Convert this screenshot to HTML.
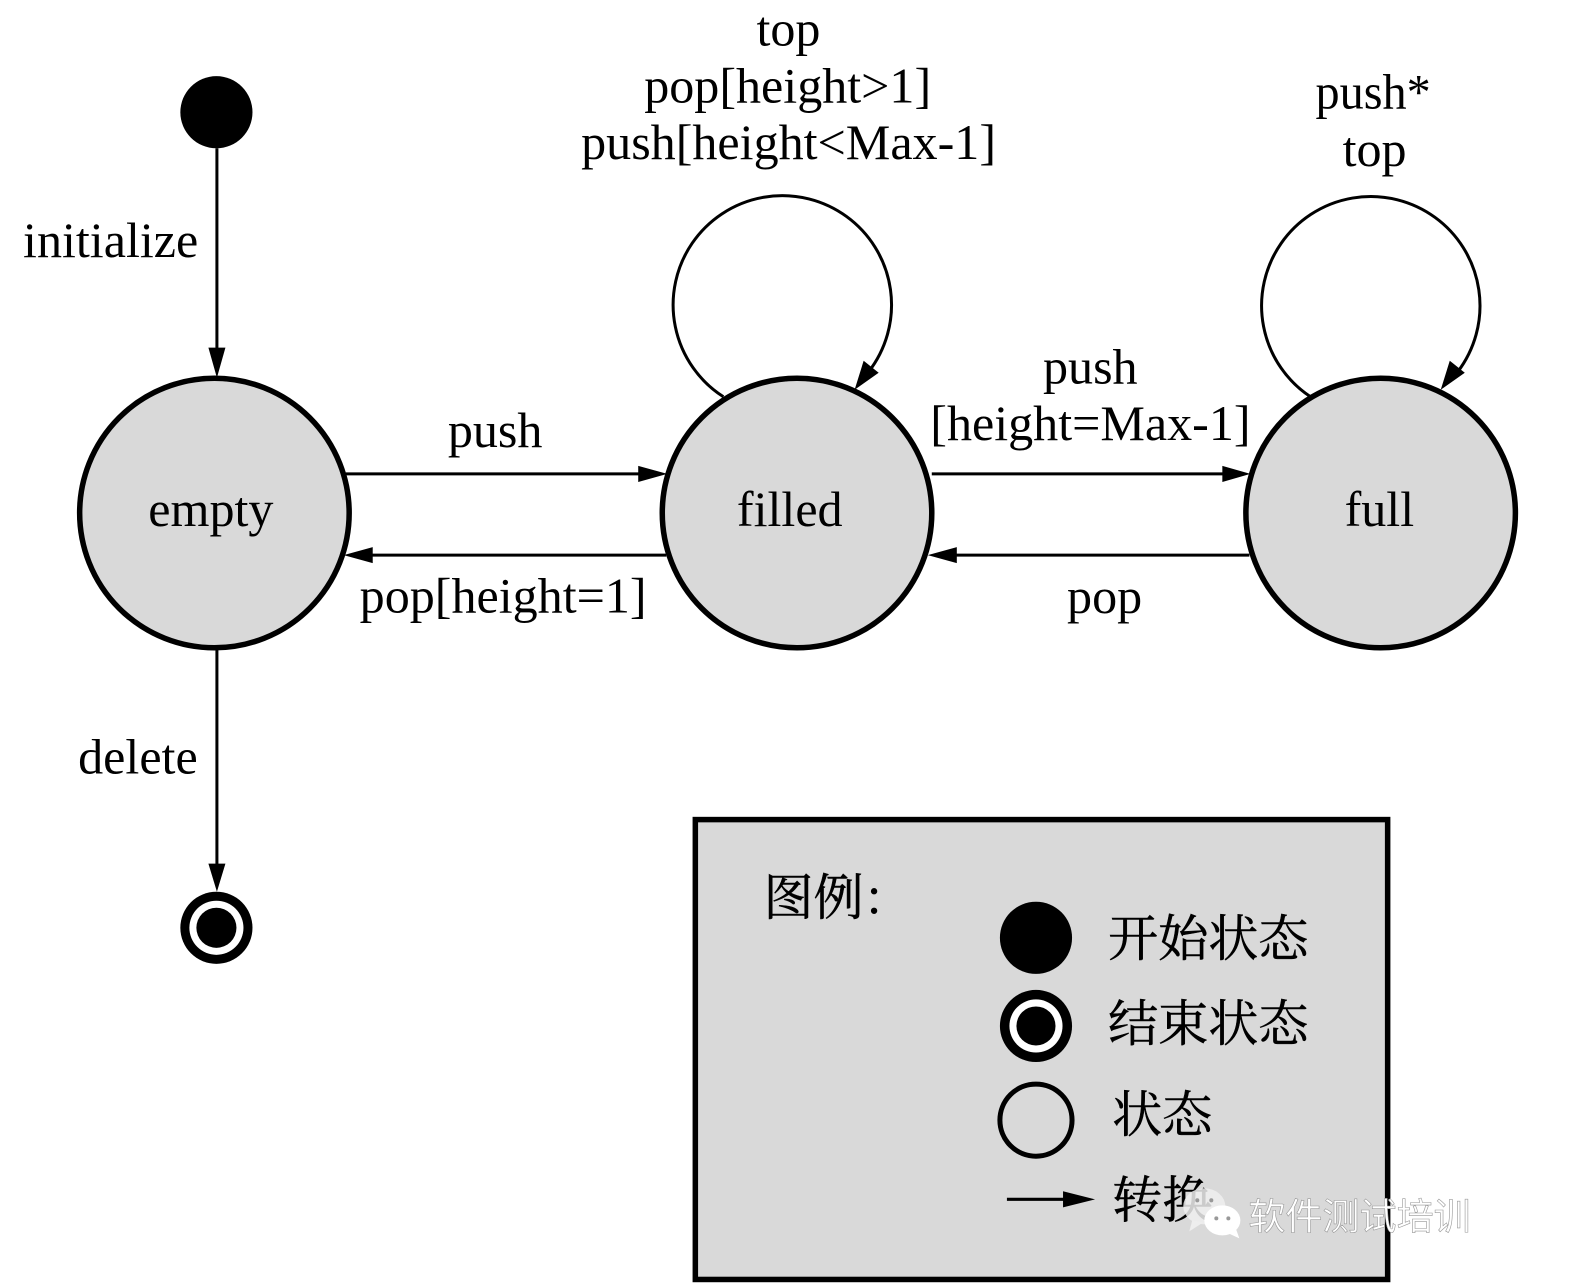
<!DOCTYPE html>
<html><head><meta charset="utf-8"><style>
html,body{margin:0;padding:0;background:#fff;width:1571px;height:1286px;overflow:hidden}
svg{display:block}
text{font-family:"Liberation Serif","Noto Serif CJK SC",serif;font-size:50px;fill:#000}
.c{font-size:50px;stroke:#000;stroke-width:.5px}
.w{font-family:"Liberation Sans","Noto Sans CJK SC",sans-serif;font-size:37px;fill:#fff;stroke:#999;stroke-width:.6px}
</style></head><body>
<svg width="1571" height="1286" viewBox="0 0 1568 1283.5" xmlns="http://www.w3.org/2000/svg">
<rect width="1568" height="1284" fill="#fff"/>
<circle cx="216" cy="112" r="36" fill="#000"/>
<g stroke="#000" stroke-width="3" fill="none">
<line x1="216.5" y1="148" x2="216.5" y2="350"/>
<line x1="216.5" y1="648" x2="216.5" y2="866"/>
<line x1="345" y1="473" x2="640" y2="473"/>
<line x1="370" y1="554" x2="665" y2="554"/>
<line x1="930" y1="473" x2="1222" y2="473"/>
<line x1="952" y1="554" x2="1247" y2="554"/>
<path d="M722 396A109 109 0 1 1 867 371"/>
<path d="M1308 396A109 109 0 1 1 1455 371"/>
</g>
<g fill="#000">
<polygon points="216.5,377 208,347 225,347"/>
<polygon points="216.5,890 208,862 225,862"/>
<polygon points="666,473 637,465 637,481"/>
<polygon points="343,554 372,546 372,562"/>
<polygon points="1248,473 1220,465 1220,481"/>
<polygon points="926,554 955,546 955,562"/>
<polygon points="853,389 862,360 877,372"/>
<polygon points="1438,389 1447,360 1462,372"/>
</g>
<g fill="#d9d9d9" stroke="#000" stroke-width="5.5">
<circle cx="214" cy="512" r="134.5"/>
<circle cx="795.5" cy="512" r="134.5"/>
<circle cx="1378" cy="512" r="134.5"/>
</g>
<circle cx="216" cy="926" r="36" fill="#000"/>
<circle cx="216" cy="926" r="27" fill="#fff"/>
<circle cx="216" cy="926" r="20" fill="#000"/>
<text x="23" y="256.5">initialize</text>
<text x="78" y="772">delete</text>
<text x="148" y="525">empty</text>
<text x="735.5" y="525">filled</text>
<text x="1342" y="525">full</text>
<text x="447" y="446">push</text>
<text x="359" y="611.5">pop[height=1]</text>
<text x="1041" y="383">push</text>
<text x="928.5" y="439">[height=Max-1]</text>
<text x="1065" y="612">pop</text>
<text x="755" y="45.5">top</text>
<text x="643" y="102.5">pop[height&gt;1]</text>
<text x="580" y="158.5">push[height&lt;Max-1]</text>
<text x="1313" y="108.5" textLength="115" lengthAdjust="spacingAndGlyphs">push*</text>
<text x="1340" y="165.5">top</text>
<rect x="694" y="818" width="691" height="459" fill="#d9d9d9" stroke="#000" stroke-width="5.5"/>
<circle cx="1034" cy="936" r="36" fill="#000"/>
<circle cx="1034" cy="1024" r="36" fill="#000"/>
<circle cx="1034" cy="1024" r="26.5" fill="#fff"/>
<circle cx="1034" cy="1024" r="19.5" fill="#000"/>
<circle cx="1034" cy="1118" r="36" fill="none" stroke="#000" stroke-width="5"/>
<line x1="1005" y1="1197" x2="1065" y2="1197" stroke="#000" stroke-width="3"/>
<polygon points="1093,1197 1061,1189 1061,1205" fill="#000"/>
<text class="c" x="762" y="913">图例</text>
<text x="865" y="911" style="font-size:54px">:</text>
<text class="c" x="1106" y="954">开始状态</text>
<text class="c" x="1106" y="1039">结束状态</text>
<text class="c" x="1110" y="1130">状态</text>
<text class="c" x="1110" y="1215">转换</text>
<ellipse cx="1202" cy="1204" rx="21" ry="18" fill="#eee" opacity=".85"/>
<polygon points="1190,1218 1187,1229 1201,1220" fill="#eee"/>
<ellipse cx="1220" cy="1218" rx="18" ry="15" fill="#fff"/>
<polygon points="1224,1230 1237,1236 1233,1225" fill="#fff"/>
<circle cx="1195" cy="1198" r="2" fill="#999"/><circle cx="1209" cy="1198" r="2" fill="#999"/>
<circle cx="1214" cy="1216" r="2" fill="#999"/><circle cx="1226" cy="1216" r="2" fill="#999"/>
<text class="w" x="1246" y="1227">软件测试培训</text>
</svg>
</body></html>
